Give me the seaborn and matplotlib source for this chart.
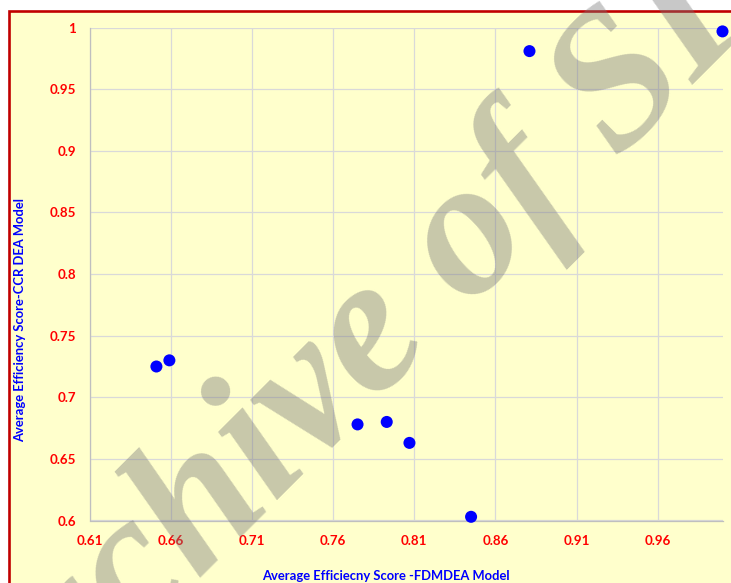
import matplotlib
matplotlib.use("Agg")
import matplotlib.pyplot as plt
from matplotlib.patches import Rectangle
import pandas as pd
import seaborn as sns

# ─────────────────────────────────────────────
# DATA
# ─────────────────────────────────────────────
fdmdea_score = [0.651, 0.659, 0.775, 0.793, 0.807, 0.845, 0.881, 1.000]
ccr_score    = [0.725, 0.730, 0.678, 0.680, 0.663, 0.603, 0.981, 0.997]

x_ticks = [0.61, 0.66, 0.71, 0.76, 0.81, 0.86, 0.91, 0.96]
y_ticks = [0.6, 0.65, 0.7, 0.75, 0.8, 0.85, 0.9, 0.95, 1.0]
y_tick_labels = ["0.6", "0.65", "0.7", "0.75", "0.8", "0.85", "0.9", "0.95", "1"]

x_label = "Average Efficiecny Score -FDMDEA Model"
y_label = "Average Efficiency Score-CCR DEA Model"
watermark = "Archive of SID"

df = pd.DataFrame({"fdmdea": fdmdea_score, "ccr": ccr_score})

# ─────────────────────────────────────────────
# STYLE
# ─────────────────────────────────────────────
YELLOW = "#FFFFCC"
GRID   = "#D9D9D9"
AXIS   = "#BFBFBF"
RED    = "#FF0000"
BLUE   = "#0000FF"

sns.set_style("white")
plt.rcParams["font.family"] = ["Lato", "DejaVu Sans"]

W, H = 731, 583
fig = plt.figure(figsize=(W / 100, H / 100), dpi=100)
fig.patch.set_facecolor("white")

# chart area with red frame (only top/left edges visible)
x0, y0 = 8.7 / W, 1 - 11 / H
fig.patches.append(Rectangle((x0, -0.1), 1.2, y0 + 0.1, transform=fig.transFigure,
                             facecolor=YELLOW, edgecolor="#C00000", lw=1.9, zorder=-1))

left, right = 89.9 / W, 722.5 / W
bottom, top = 1 - 520.5 / H, 1 - 27.7 / H
ax = fig.add_axes([left, bottom, right - left, top - bottom])
ax.set_facecolor(YELLOW)

# ─────────────────────────────────────────────
# PLOT
# ─────────────────────────────────────────────
sns.scatterplot(data=df, x="fdmdea", y="ccr", color=BLUE, s=75,
                edgecolor="none", ax=ax, clip_on=False, zorder=3)

ax.set_xlim(0.61, 1.0)
ax.set_ylim(0.6, 1.0)
ax.set_xticks(x_ticks)
ax.set_xticklabels([f"{t:.2f}" for t in x_ticks])
ax.set_yticks(y_ticks)
ax.set_yticklabels(y_tick_labels)

ax.grid(True, color=GRID, lw=0.9)
ax.set_axisbelow(True)
for s in ["top", "right"]:
    ax.spines[s].set_visible(False)
for s in ["left", "bottom"]:
    ax.spines[s].set_color(AXIS)
    ax.spines[s].set_linewidth(0.9)

ax.tick_params(axis="both", direction="out", length=4, width=0.9, color=AXIS,
               labelcolor=RED, labelsize=9.6)
ax.tick_params(axis="y", pad=6)
ax.tick_params(axis="x", pad=6.5)
for lab in ax.get_xticklabels() + ax.get_yticklabels():
    lab.set_fontweight("bold")

ax.set_xlabel("")
ax.set_ylabel("")
fig.text(386 / W, 1 - 576 / H, x_label, ha="center", va="center",
         color=BLUE, fontsize=9.4, fontweight="bold")
fig.text(20 / W, 1 - 320 / H, y_label, ha="center", va="center", rotation=90,
         color=BLUE, fontsize=9.4, fontweight="bold")

# watermark across the whole picture
fig.text(422 / W, 1 - 365 / H, watermark, ha="center", va="baseline",
         rotation=45, rotation_mode="anchor", fontsize=140,
         family=["Liberation Serif"], fontweight="bold", fontstyle="italic",
         color="#797979", alpha=0.41, zorder=10)

fig.savefig("out.png", dpi=100)
print("[INFO] saved → out.png")
